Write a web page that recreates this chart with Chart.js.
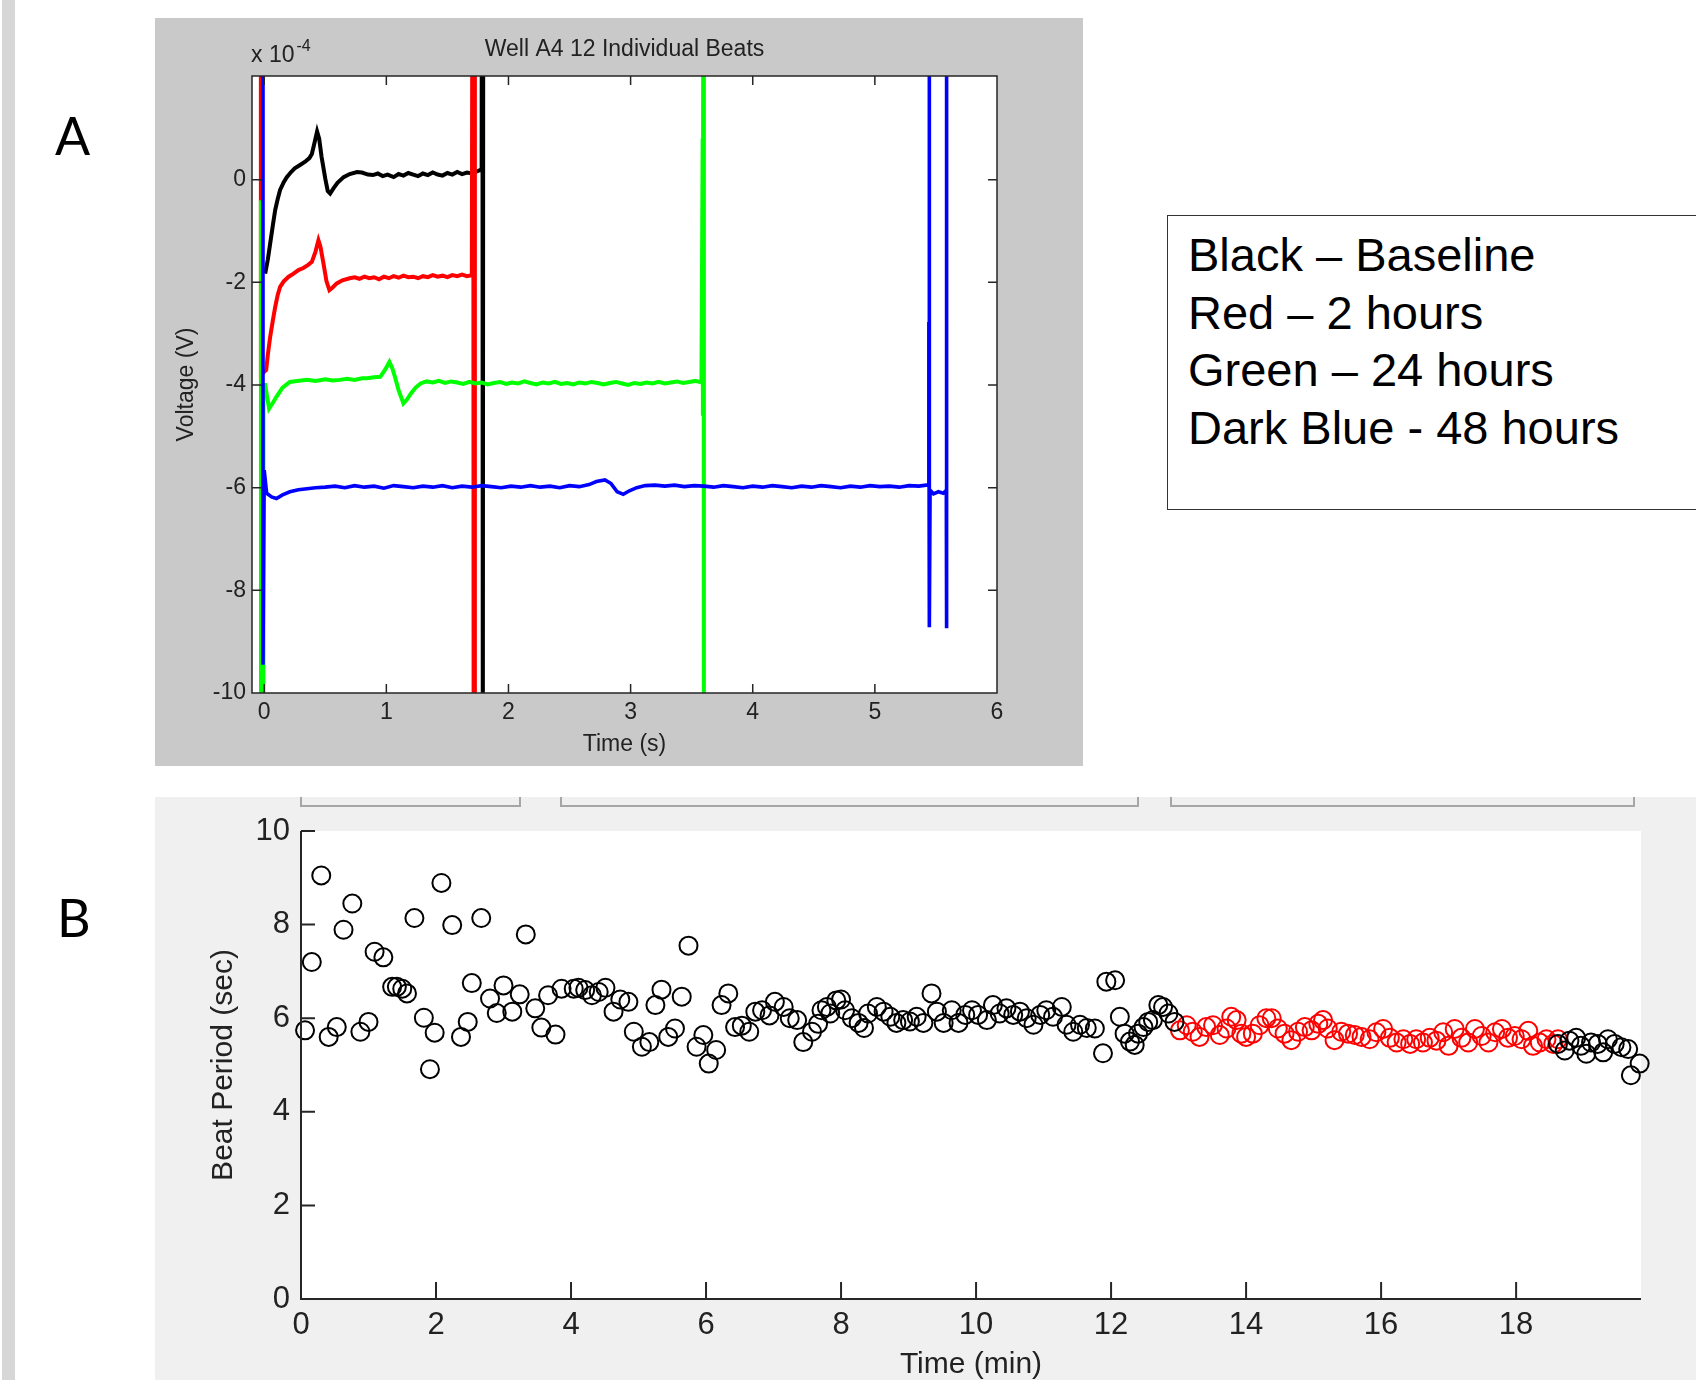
<!DOCTYPE html>
<html>
<head>
<meta charset="utf-8">
<title>Well A4 beats</title>
<script src="https://cdn.jsdelivr.net/npm/chart.js@4.4.0/dist/chart.umd.min.js"></script>
<style>
  html, body { margin: 0; padding: 0; width: 1696px; height: 1380px; overflow: hidden; background: #fff; }
  body { position: relative; font-family: "Liberation Sans", Arial, sans-serif; }
  #strip { position: absolute; left: 2px; top: 0; width: 13px; height: 1380px; background: #d7d7d7; }
  #panelA { position: absolute; left: 155px; top: 18px; width: 928px; height: 748px; background: #c9c9c9; }
  #panelB { position: absolute; left: 155px; top: 797px; width: 1541px; height: 583px; background: #f0f0f0; }
  .bracket { position: absolute; top: 797px; height: 8px; border: 2px solid #a6a6a6; border-top: none; }
  .letter { position: absolute; font-family: Lato, "Open Sans", sans-serif; font-size: 52px; line-height: 1; color: #000; }
  #legend { position: absolute; left: 1167px; top: 215px; width: 600px; height: 295px; border: 1.5px solid #333; box-sizing: border-box; }
  #legendText { position: absolute; left: 1188px; top: 226px; font-size: 47px; line-height: 57.7px; color: #000; white-space: pre; }
</style>
</head>
<body>
<div id="strip"></div>
<div class="letter" style="left:55px; top:109px;">A</div>
<div class="letter" style="left:57px; top:891px;">B</div>

<div id="panelA"><canvas id="beats" width="928" height="748"></canvas></div>

<div id="legend"></div>
<div id="legendText">Black – Baseline
Red – 2 hours
Green – 24 hours
Dark Blue - 48 hours</div>

<div id="panelB"><canvas id="period" width="1541" height="583"></canvas></div>
<div class="bracket" style="left:300px; width:217px;"></div>
<div class="bracket" style="left:560px; width:575px;"></div>
<div class="bracket" style="left:1170px; width:461px;"></div>

<script>
// A: overlaid beats, voltage in units of 1e-4 V, time in s
const beatsXTicks = [0, 1, 2, 3, 4, 5, 6];
const beatsYTicks = [-10, -8, -6, -4, -2, 0];

const baselineTrace = [
  [0.008,-1.83],[0.03,-1.55],[0.049,-1.24],[0.07,-0.9],[0.09,-0.59],[0.11,-0.38],[0.13,-0.2],[0.16,-0.05],
  [0.185,0.05],[0.22,0.15],[0.25,0.22],[0.29,0.28],[0.335,0.35],[0.37,0.42],[0.39,0.5],[0.41,0.7],
  [0.433,0.94],[0.45,0.8],[0.47,0.44],[0.5,0.02],[0.52,-0.22],[0.54,-0.27],[0.567,-0.17],[0.6,-0.06],
  [0.65,0.05],[0.7,0.11],[0.76,0.15],[0.8,0.14],[0.85,0.1],[0.89,0.09],[0.93,0.12],[0.97,0.07],
  [1.01,0.1],[1.06,0.05],[1.1,0.11],[1.14,0.08],[1.18,0.13],[1.22,0.1],[1.26,0.07],[1.3,0.12],
  [1.34,0.09],[1.38,0.14],[1.42,0.1],[1.46,0.08],[1.5,0.13],[1.54,0.1],[1.58,0.15],[1.62,0.11],
  [1.66,0.14],[1.7,0.12],[1.74,0.16],[1.78,0.2],[1.785,12],[1.79,-12],[1.795,12]
];
const twoHourTrace = [
  [-0.028,12],[-0.027,-3.8],[0.016,-3.71],[0.03,-3.4],[0.049,-3.06],[0.07,-2.75],[0.09,-2.48],[0.11,-2.25],
  [0.13,-2.09],[0.16,-1.98],[0.2,-1.89],[0.24,-1.83],[0.28,-1.76],[0.32,-1.72],[0.36,-1.66],[0.39,-1.6],
  [0.42,-1.4],[0.444,-1.18],[0.46,-1.3],[0.485,-1.63],[0.51,-1.98],[0.534,-2.15],[0.56,-2.1],[0.594,-2.02],
  [0.64,-1.96],[0.7,-1.92],[0.74,-1.9],[0.78,-1.93],[0.82,-1.89],[0.86,-1.92],[0.9,-1.9],[0.94,-1.94],
  [0.98,-1.89],[1.02,-1.92],[1.06,-1.88],[1.1,-1.91],[1.14,-1.87],[1.18,-1.9],[1.22,-1.89],[1.26,-1.92],
  [1.3,-1.88],[1.34,-1.9],[1.38,-1.86],[1.42,-1.89],[1.46,-1.87],[1.5,-1.9],[1.54,-1.86],[1.58,-1.88],
  [1.62,-1.85],[1.66,-1.88],[1.7,-1.86],[1.71,12],[1.715,-12],[1.72,12],[1.725,-12]
];
const dayTrace = [
  [-0.027,-0.4],[-0.026,-12],[-0.008,-12],[-0.007,-4.0],[0.008,-4.0],[0.04,-4.46],[0.07,-4.35],[0.1,-4.23],
  [0.15,-4.05],[0.21,-3.94],[0.27,-3.92],[0.35,-3.9],[0.42,-3.92],[0.5,-3.89],[0.56,-3.91],[0.62,-3.9],
  [0.68,-3.88],[0.74,-3.9],[0.8,-3.87],[0.84,-3.87],[0.9,-3.85],[0.95,-3.84],[0.99,-3.7],[1.025,-3.55],
  [1.05,-3.68],[1.07,-3.84],[1.1,-4.1],[1.14,-4.36],[1.17,-4.28],[1.2,-4.17],[1.24,-4.05],[1.28,-3.97],
  [1.33,-3.93],[1.38,-3.95],[1.43,-3.92],[1.48,-3.96],[1.53,-3.93],[1.58,-3.95],[1.63,-3.98],[1.68,-3.94],
  [1.73,-3.97],[1.78,-3.95],[1.83,-3.99],[1.88,-3.96],[1.93,-3.94],[1.98,-3.98],[2.03,-3.95],[2.08,-3.97],
  [2.13,-3.93],[2.18,-3.96],[2.23,-3.99],[2.28,-3.95],[2.33,-3.97],[2.38,-3.94],[2.43,-3.98],[2.48,-3.96],
  [2.53,-3.99],[2.58,-3.95],[2.63,-3.97],[2.68,-3.94],[2.73,-3.96],[2.78,-3.99],[2.83,-3.96],[2.88,-3.94],
  [2.93,-3.97],[2.98,-4.0],[3.03,-3.96],[3.08,-3.98],[3.13,-3.95],[3.18,-3.97],[3.23,-3.94],[3.28,-3.97],
  [3.33,-3.95],[3.38,-3.93],[3.43,-3.96],[3.48,-3.94],[3.53,-3.92],[3.58,-3.95],[3.59,0.8],[3.592,-4.6],
  [3.597,12],[3.6,-12]
];
const twoDayTrace = [
  [-0.01,12],[-0.01,-9.45],[0.0,-5.66],[0.02,-6.11],[0.06,-6.18],[0.1,-6.21],[0.15,-6.14],[0.21,-6.08],
  [0.28,-6.04],[0.35,-6.02],[0.42,-6.0],[0.5,-5.99],[0.58,-5.97],[0.66,-6.0],[0.74,-5.96],[0.82,-5.99],
  [0.9,-5.97],[0.98,-6.01],[1.06,-5.96],[1.14,-5.98],[1.22,-6.0],[1.3,-5.97],[1.38,-5.99],[1.46,-5.96],
  [1.54,-6.0],[1.62,-5.97],[1.7,-5.99],[1.78,-5.96],[1.86,-5.98],[1.94,-6.0],[2.02,-5.97],[2.1,-5.99],
  [2.18,-5.96],[2.26,-5.99],[2.34,-5.97],[2.42,-6.0],[2.5,-5.96],[2.58,-5.98],[2.66,-5.94],[2.72,-5.88],
  [2.79,-5.85],[2.84,-5.92],[2.89,-6.08],[2.94,-6.13],[2.99,-6.06],[3.05,-6.0],[3.12,-5.96],[3.2,-5.95],
  [3.28,-5.97],[3.36,-5.95],[3.44,-5.98],[3.52,-5.96],[3.6,-5.97],[3.68,-5.99],[3.76,-5.96],[3.84,-5.98],
  [3.92,-6.0],[4.0,-5.97],[4.08,-5.99],[4.16,-5.96],[4.24,-5.98],[4.32,-6.0],[4.4,-5.97],[4.48,-5.99],
  [4.56,-5.96],[4.64,-5.98],[4.72,-6.0],[4.8,-5.97],[4.88,-5.99],[4.96,-5.96],[5.04,-5.98],[5.12,-5.97],
  [5.2,-5.99],[5.28,-5.96],[5.36,-5.97],[5.42,-5.95],[5.44,-5.96],[5.442,-2.77],[5.444,-6.0],[5.445,12],
  [5.447,-8.72],[5.452,-6.05],[5.48,-6.12],[5.52,-6.08],[5.56,-6.11],[5.585,-6.05],[5.586,-4.85],[5.587,12],
  [5.589,-8.74]
];

// B: beat period (sec) against time (min)
const periodXTicks = [0, 2, 4, 6, 8, 10, 12, 14, 16, 18];
const periodYTicks = [0, 2, 4, 6, 8, 10];

const periodTimeBlack = [
  0.06,0.16,0.30,0.41,0.53,0.63,0.76,0.88,1.00,1.09,1.22,1.35,1.42,1.50,1.57,1.68,1.82,1.91,1.98,2.08,
  2.24,2.37,2.47,2.53,2.67,2.80,2.90,3.00,3.13,3.24,3.33,3.47,3.56,3.66,3.77,3.86,
  4.04,4.11,4.21,4.31,4.41,4.51,4.63,4.73,4.85,4.93,5.05,5.16,5.25,5.34,5.44,5.54,5.64,5.74,5.86,5.96,
  6.04,6.15,6.23,6.33,6.43,6.53,6.64,6.73,6.83,6.94,7.02,7.15,7.24,7.35,7.44,7.57,7.66,7.71,7.79,
  7.84,7.93,8.00,8.06,8.16,8.26,8.34,8.40,8.53,8.63,8.73,8.82,8.92,9.02,9.12,9.22,9.34,9.42,9.52,9.64,
  9.74,9.84,9.94,10.03,10.16,10.25,10.35,10.45,10.55,10.65,10.75,10.85,10.95,11.04,11.14,11.27,11.34,
  11.44,11.54,11.64,11.76,
  11.88,11.93,12.06,12.13,12.20,12.28,12.35,12.40,12.48,12.55,12.62,12.70,12.77,12.85,12.94,
  18.62,18.72,18.79,18.89,18.96,19.04,19.11,19.21,19.29,19.36,19.46,19.56,19.66,19.70,19.83
];
const periodBlack = [
  5.74,7.20,9.05,5.60,5.81,7.89,8.45,5.71,5.92,7.42,7.30,6.67,6.67,6.63,6.53,8.14,6.01,4.91,5.69,8.89,
  7.99,5.60,5.92,6.75,8.14,6.42,6.11,6.70,6.14,6.51,7.79,6.21,5.80,6.49,5.65,6.63,
  6.63,6.65,6.60,6.49,6.56,6.65,6.14,6.40,6.35,5.71,5.39,5.49,6.28,6.61,5.60,5.78,6.46,7.55,5.39,5.64,
  5.03,5.32,6.28,6.53,5.81,5.84,5.71,6.14,6.17,6.06,6.35,6.24,6.00,5.96,5.49,5.71,5.88,6.17,6.24,
  6.10,6.38,6.40,6.17,6.00,5.90,5.79,6.10,6.24,6.14,6.03,5.90,5.96,5.93,6.03,5.90,6.53,6.14,5.90,6.17,
  5.90,6.07,6.17,6.07,5.96,6.28,6.10,6.21,6.07,6.14,6.00,5.86,6.07,6.17,6.03,6.24,5.86,
  5.71,5.86,5.79,5.78,
  5.25,6.78,6.81,6.03,5.67,5.50,5.43,5.67,5.81,5.92,5.96,6.28,6.24,6.10,5.92,
  5.45,5.31,5.52,5.58,5.41,5.24,5.48,5.45,5.27,5.55,5.45,5.38,5.34,4.78,5.03
];
const periodTimeRed = [
  13.02,13.12,13.21,13.31,13.41,13.51,13.61,13.71,13.78,13.86,13.93,14.00,14.10,14.20,14.30,
  14.38,14.47,14.57,14.67,14.77,14.87,14.97,15.07,15.14,15.21,15.31,15.41,15.51,15.61,15.71,
  15.83,15.93,16.03,16.13,16.23,16.33,16.43,16.52,16.62,16.72,16.82,16.92,17.00,17.09,17.19,
  17.29,17.39,17.49,17.59,17.69,17.79,17.88,17.98,18.08,18.18,18.25,18.35,18.45,18.55,18.62
];
const periodRed = [
  5.74,5.85,5.71,5.60,5.81,5.85,5.64,5.78,6.03,5.96,5.67,5.60,5.67,5.85,6.00,
  6.00,5.78,5.67,5.53,5.71,5.81,5.74,5.88,5.96,5.78,5.53,5.71,5.67,5.64,5.60,
  5.55,5.70,5.77,5.58,5.48,5.55,5.45,5.55,5.48,5.58,5.52,5.70,5.41,5.77,5.58,
  5.48,5.77,5.62,5.48,5.70,5.77,5.58,5.62,5.55,5.73,5.41,5.48,5.55,5.45,5.55
];

const FONT = '"Liberation Sans", Arial, Helvetica, sans-serif';
const TXT = '#222';
const pairs = arr => arr.map(p => ({x: p[0], y: p[1]}));
const zip = (xs, ys) => xs.map((x, i) => ({x: x, y: ys[i]}));
const fixTicks = list => scale => { scale.ticks = list.map(v => ({value: v})); };

// matlab style box: white plot area, axis lines, inward ticks
function matlabAxes(id, o) {
  return {
    id: id,
    beforeDraw(chart) {
      const a = chart.chartArea, ctx = chart.ctx;
      ctx.save();
      ctx.fillStyle = '#fff';
      ctx.fillRect(a.left, a.top, a.right - a.left, a.bottom - a.top);
      ctx.restore();
    },
    afterDraw(chart) {
      const a = chart.chartArea, ctx = chart.ctx;
      const xs = chart.scales.x, ys = chart.scales.y;
      ctx.save();
      ctx.strokeStyle = '#262626';
      ctx.lineWidth = o.lineWidth;
      ctx.beginPath();
      ctx.moveTo(a.left, a.top); ctx.lineTo(a.left, a.bottom); ctx.lineTo(a.right, a.bottom);
      if (o.box) { ctx.lineTo(a.right, a.top); ctx.closePath(); }
      o.xTicks.forEach(v => {
        const px = xs.getPixelForValue(v);
        ctx.moveTo(px, a.bottom); ctx.lineTo(px, a.bottom - o.xLen);
        if (o.box) { ctx.moveTo(px, a.top); ctx.lineTo(px, a.top + o.xLen); }
      });
      o.yTicks.forEach(v => {
        const py = ys.getPixelForValue(v);
        ctx.moveTo(a.left, py); ctx.lineTo(a.left + o.yLen, py);
        if (o.box) { ctx.moveTo(a.right, py); ctx.lineTo(a.right - o.yLen, py); }
      });
      ctx.stroke();
      if (o.title) {
        ctx.fillStyle = TXT;
        ctx.textBaseline = 'middle';
        ctx.textAlign = 'center';
        ctx.font = '23px ' + FONT;
        ctx.fillText(o.title, (a.left + a.right) / 2, 32);
        ctx.textAlign = 'left';
        ctx.font = '23px ' + FONT;
        ctx.fillText('x 10', a.left - 1, 38);
        const w = ctx.measureText('x 10').width;
        ctx.font = '16px ' + FONT;
        ctx.fillText('-4', a.left - 1 + w + 2, 29);
      }
      ctx.restore();
    }
  };
}

const lineSet = (label, data, color, width) => ({
  label: label, data: pairs(data), borderColor: color, backgroundColor: color,
  borderWidth: width, pointRadius: 0, tension: 0, fill: false
});

new Chart(document.getElementById('beats'), {
  type: 'line',
  data: {
    datasets: [
      lineSet('Baseline', baselineTrace, '#000000', 4),
      lineSet('2 hours', twoHourTrace, '#ff0000', 4),
      lineSet('24 hours', dayTrace, '#00ff00', 4),
      lineSet('48 hours', twoDayTrace, '#0000ff', 3.6)
    ].map((d, i) => Object.assign(d, {order: 4 - i}))
  },
  options: {
    responsive: false,
    animation: false,
    events: [],
    layout: {padding: {left: 0, right: 86, top: 58, bottom: 0}},
    plugins: {legend: {display: false}, tooltip: {enabled: false}, title: {display: false}},
    scales: {
      x: {
        type: 'linear', min: -0.1, max: 6,
        afterBuildTicks: fixTicks(beatsXTicks),
        afterFit: s => { s.height = 73; },
        grid: {display: false, drawTicks: false},
        border: {display: false},
        ticks: {color: TXT, font: {family: FONT, size: 23}, padding: 6, maxRotation: 0},
        title: {display: true, text: 'Time (s)', color: TXT, font: {family: FONT, size: 23}, padding: {top: 0, bottom: 8}}
      },
      y: {
        type: 'linear', min: -10, max: 2.02,
        afterBuildTicks: fixTicks(beatsYTicks),
        afterFit: s => { s.width = 97; },
        grid: {display: false, drawTicks: false},
        border: {display: false},
        ticks: {color: TXT, font: {family: FONT, size: 23}, padding: 6},
        title: {display: true, text: 'Voltage (V)', color: TXT, font: {family: FONT, size: 23}, padding: {top: 18, bottom: 0}}
      }
    }
  },
  plugins: [matlabAxes('boxA', {box: true, lineWidth: 1.5, xLen: 9, yLen: 9,
    xTicks: beatsXTicks, yTicks: beatsYTicks, title: 'Well A4 12 Individual Beats'})]
});

const pointSet = (label, data, color) => ({
  label: label, data: data, borderColor: color, backgroundColor: 'rgba(0,0,0,0)',
  pointStyle: 'circle', pointRadius: 9, pointBorderWidth: 2, showLine: false, clip: false
});

new Chart(document.getElementById('period'), {
  type: 'scatter',
  data: {
    datasets: [
      pointSet('Beat period', zip(periodTimeBlack, periodBlack), '#000000'),
      pointSet('Selected', zip(periodTimeRed, periodRed), '#ff0000')
    ]
  },
  options: {
    responsive: false,
    animation: false,
    events: [],
    layout: {padding: {left: 0, right: 55, top: 34, bottom: 0}},
    plugins: {legend: {display: false}, tooltip: {enabled: false}},
    scales: {
      x: {
        type: 'linear', min: 0, max: 19.85,
        afterBuildTicks: fixTicks(periodXTicks),
        afterFit: s => { s.height = 81; },
        grid: {display: false, drawTicks: false},
        border: {display: false},
        ticks: {color: TXT, font: {family: FONT, size: 31}, padding: 8, maxRotation: 0},
        title: {display: true, text: 'Time (min)', color: TXT, font: {family: FONT, size: 30}, padding: {top: 0, bottom: -3}}
      },
      y: {
        type: 'linear', min: 0, max: 10,
        afterBuildTicks: fixTicks(periodYTicks),
        afterFit: s => { s.width = 146; },
        grid: {display: false, drawTicks: false},
        border: {display: false},
        ticks: {color: TXT, font: {family: FONT, size: 31}, padding: 11},
        title: {display: true, text: 'Beat Period (sec)', color: TXT, font: {family: FONT, size: 30}, padding: {top: 51, bottom: 0}}
      }
    }
  },
  plugins: [matlabAxes('boxB', {box: false, lineWidth: 2, xLen: 17, yLen: 14,
    xTicks: periodXTicks, yTicks: periodYTicks})]
});
</script>
</body>
</html>
